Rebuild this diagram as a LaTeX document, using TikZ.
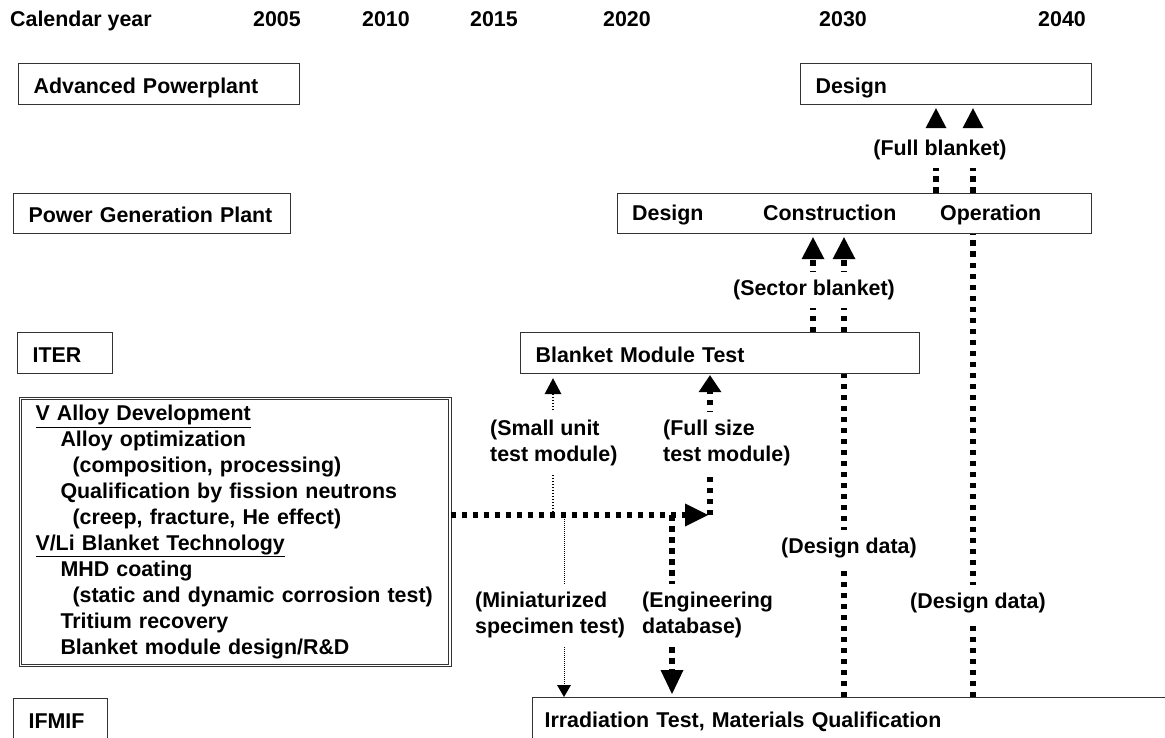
\documentclass[tikz,border=0pt]{standalone}
\usepackage{fontspec}
\setmainfont{Liberation Sans}
\usetikzlibrary{arrows.meta}

\tikzset{
  box/.style={draw=black!80, line width=1.2pt, anchor=north west, minimum height=41pt,
    inner xsep=15pt, text height=18pt, text depth=0pt, align=left},
  txt/.style={anchor=base west, inner sep=0pt},
  yrlbl/.style={anchor=base, inner sep=0pt},
  bigdots/.style={line width=5.5pt, dash pattern=on 5.5pt off 5.5pt},
  finedots/.style={line width=1.5pt, dash pattern=on 1.5pt off 1.5pt},
  tinydots/.style={line width=1pt, dash pattern=on 1pt off 1pt},
  headtri/.style 2 args={-{Triangle[width=#1,length=#2,line width=0pt]}},
  lbl/.style={fill=white, inner xsep=2pt, inner ysep=8pt, align=left},
}

\begin{document}
\begin{tikzpicture}[x=1pt, y=-1pt, font=\bfseries\fontsize{21.4}{25.9}\selectfont]
 \useasboundingbox (0,0) rectangle (1165,738);
 \clip (0,0) rectangle (1165,738);

 \node[txt] (calyear) at (10,27) {Calendar year};
 \foreach \yr/\xx in {2005/277, 2010/386, 2015/494, 2020/627, 2030/843, 2040/1062}
   \node[yrlbl] (y\yr) at (\xx,27) {\yr};

 \node[box, text width=251pt] (adv) at (18,63) {Advanced Powerplant};
 \node[box, text width=261pt] (advd) at (800,63) {Design};

 \node[box, text width=247pt, minimum height=40pt] (pgp) at (13,193) {Power Generation Plant};
 \node[box, text width=444pt, minimum height=40pt] (pgd) at (617,193) {};
 \node[txt] (pgdesign) at (632,221) {Design};
 \node[txt] (pgcons) at (763,221) {Construction};
 \node[txt] (pgop) at (940,221) {Operation};

 \node[box, text width=65pt] (iter) at (17,332) {ITER};
 \node[box, text width=369pt] (bmt) at (520,332) {Blanket Module Test};

 \node[draw=black!80, double, double distance=1.8pt, line width=1pt, anchor=north west,
   minimum width=429.5pt, minimum height=267pt, text width=399.5pt, inner xsep=15pt,
   align=left] (vad) at (20,398) {
   \underline{V Alloy Development}\\
   \hspace*{25pt}Alloy optimization\\
   \hspace*{37pt}(composition, processing)\\
   \hspace*{25pt}Qualification by fission neutrons\\
   \hspace*{37pt}(creep, fracture, He effect)\\
   \underline{V/Li Blanket Technology}\\
   \hspace*{25pt}MHD coating\\
   \hspace*{37pt}(static and dynamic corrosion test)\\
   \hspace*{25pt}Tritium recovery\\
   \hspace*{25pt}Blanket module design/R\&D};

 \node[box, text width=64pt] (ifmif) at (13,698) {IFMIF};
 \node[box, text width=616pt, inner xsep=12pt] (irr) at (532,697) {Irradiation Test, Materials Qualification};

 \coordinate (fsjoin) at (710,515);
 \coordinate (sujoin) at (553,515);
 \coordinate (mstop) at (564,519);
 \coordinate (edjoin) at (672,515);
 \coordinate (sec1) at (813,0);
 \coordinate (sec2) at (844,0);
 \coordinate (full1) at (936,0);
 \coordinate (full2) at (973,0);

 \draw[bigdots, headtri={23pt}{23pt}, shorten >=2pt] (vad.east |- fsjoin) -- (fsjoin);
 \draw[bigdots, headtri={23pt}{17pt}, shorten >=1pt] (fsjoin) -- (bmt.south -| fsjoin);
 \draw[finedots, headtri={17pt}{16pt}, shorten >=4pt] (sujoin) -- (bmt.south -| sujoin);
 \draw[tinydots, headtri={14pt}{12pt}] (mstop) -- (irr.north -| mstop);
 \draw[bigdots, headtri={23pt}{24pt}, shorten >=3pt] (edjoin) -- (irr.north -| edjoin);

 \draw[bigdots, headtri={23pt}{22pt}, shorten >=3pt] (bmt.north -| sec1) -- (pgd.south -| sec1);
 \draw[bigdots, headtri={23pt}{22pt}, shorten >=3pt] (bmt.north -| sec2) -- (pgd.south -| sec2);
 \draw[bigdots, headtri={21pt}{20pt}, shorten >=3pt] (pgd.north -| full1) -- (advd.south -| full1);
 \draw[bigdots, headtri={21pt}{20pt}, shorten >=3pt] (pgd.north -| full2) -- (advd.south -| full2);
 \draw[bigdots] (irr.north -| sec2) -- (bmt.south -| sec2);
 \draw[bigdots] (irr.north -| full2) -- (pgd.south -| full2);

 \node[lbl] (fullbl) at (940,150) {(Full blanket)};
 \node[lbl] (secbl) at (814,290) {(Sector blanket)};
 \node[lbl, anchor=west] (smallut) at (488,443) {(Small unit\\test module)};
 \node[lbl, anchor=west] (fullsz) at (661,443) {(Full size\\test module)};
 \node[lbl, anchor=west] (minisp) at (473,615) {(Miniaturized\\specimen test)};
 \node[lbl, anchor=west] (engdb) at (640,615) {(Engineering\\database)};
 \node[lbl] (ddata1) at (849,548) {(Design data)};
 \node[lbl] (ddata2) at (978,603) {(Design data)};
\end{tikzpicture}
\end{document}
